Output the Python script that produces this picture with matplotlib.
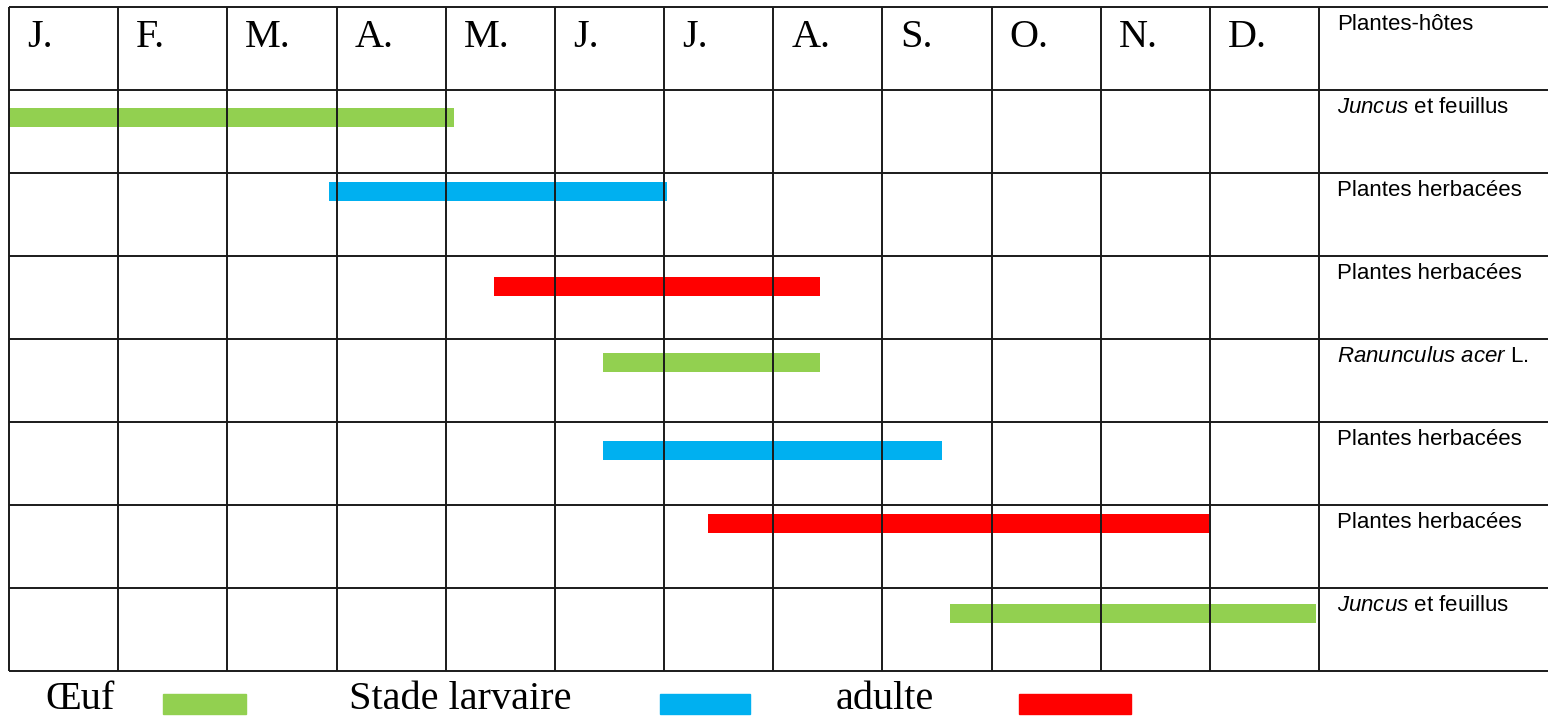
import matplotlib
matplotlib.use("Agg")
import matplotlib.pyplot as plt
from matplotlib.patches import Rectangle

# ---------------- data ----------------
months = ['J.', 'F.', 'M.', 'A.', 'M.', 'J.', 'J.', 'A.', 'S.', 'O.', 'N.', 'D.']
host_header = 'Plantes-hôtes'
stages = ['oeuf', 'larve', 'adulte', 'oeuf', 'larve', 'adulte', 'oeuf']
starts = [0.0, 2.93, 4.44, 5.44, 5.44, 6.40, 8.62]   # in months from 1 Jan
ends = [4.08, 6.03, 7.43, 7.43, 8.55, 10.99, 11.97]
hosts = [r'$\mathit{Juncus}$ et feuillus',
         'Plantes herbacées',
         'Plantes herbacées',
         r'$\mathit{Ranunculus\ acer}$ L.',
         'Plantes herbacées',
         'Plantes herbacées',
         r'$\mathit{Juncus}$ et feuillus']
legend_labels = ['Œuf', 'Stade larvaire', 'adulte']
legend_stages = ['oeuf', 'larve', 'adulte']

# ---------------- style ----------------
colors = {'oeuf': '#92D050', 'larve': '#00B0F0', 'adulte': '#FF0000'}
bar_offsets = [0.33, 0.22, 0.37, 0.28, 0.34, 0.22, 0.31]  # bar centre inside row
bar_h = 0.23
line_c = '#1a1a1a'
lw = 1.4

plt.rcParams['mathtext.fontset'] = 'custom'
plt.rcParams['mathtext.it'] = 'Liberation Sans:italic'
plt.rcParams['mathtext.rm'] = 'Liberation Sans'

W, H = 1548, 716
fig = plt.figure(figsize=(W / 100, H / 100), dpi=100)
ax = fig.add_axes([0, 0, 1, 1])
ax.axis('off')

x0_px, col_px = 9, 109.17
y0_px, row_px = 7, 83
ax.set_xlim(-x0_px / col_px, (W - x0_px) / col_px)
ax.set_ylim((H - y0_px) / row_px, -y0_px / row_px)

nrows = len(stages) + 1
ncols = len(months)
xr = (W - x0_px) / col_px

# bars
for i, (s, a, b) in enumerate(zip(stages, starts, ends)):
    ax.barh(i + 1 + bar_offsets[i], b - a, left=a, height=bar_h,
            color=colors[s], edgecolor='none', zorder=1)

# grid lines
for r in range(nrows + 1):
    ax.plot([0, xr], [r, r], color=line_c, lw=lw, zorder=3, solid_capstyle='butt')
for c in range(ncols + 1):
    ax.plot([c, c], [0, nrows], color=line_c, lw=lw, zorder=3, solid_capstyle='butt')

# month labels
for c, m in enumerate(months):
    ax.text(c + 18 / col_px, (47 - y0_px) / row_px, m, family='Liberation Serif',
            fontsize=29, ha='left', va='baseline', color='black', zorder=4)

# host plants column
ax.text(ncols + 18 / col_px, 7 / row_px, host_header, family='Liberation Sans',
        fontsize=16, ha='left', va='top', zorder=4)
for i, h in enumerate(hosts):
    ax.text(ncols + 18 / col_px, i + 1 + 7 / row_px, h, family='Liberation Sans',
            fontsize=16, ha='left', va='top', zorder=4)

# legend (figure pixel positions)
def fx(px):
    return px / W

def fy(py):
    return 1 - py / H

text_x = [45, 349, 836]
sw_x = [(163, 246), (660, 750), (1019, 1131)]
for lab, st, tx, (a, b) in zip(legend_labels, legend_stages, text_x, sw_x):
    fig.text(fx(tx), fy(709), lab, family='Liberation Serif', fontsize=29,
             ha='left', va='baseline')
    fig.patches.append(Rectangle((fx(a), fy(714)), fx(b) - fx(a), fy(694) - fy(714),
                                 transform=fig.transFigure, color=colors[st]))

fig.savefig('out.png', dpi=100)
